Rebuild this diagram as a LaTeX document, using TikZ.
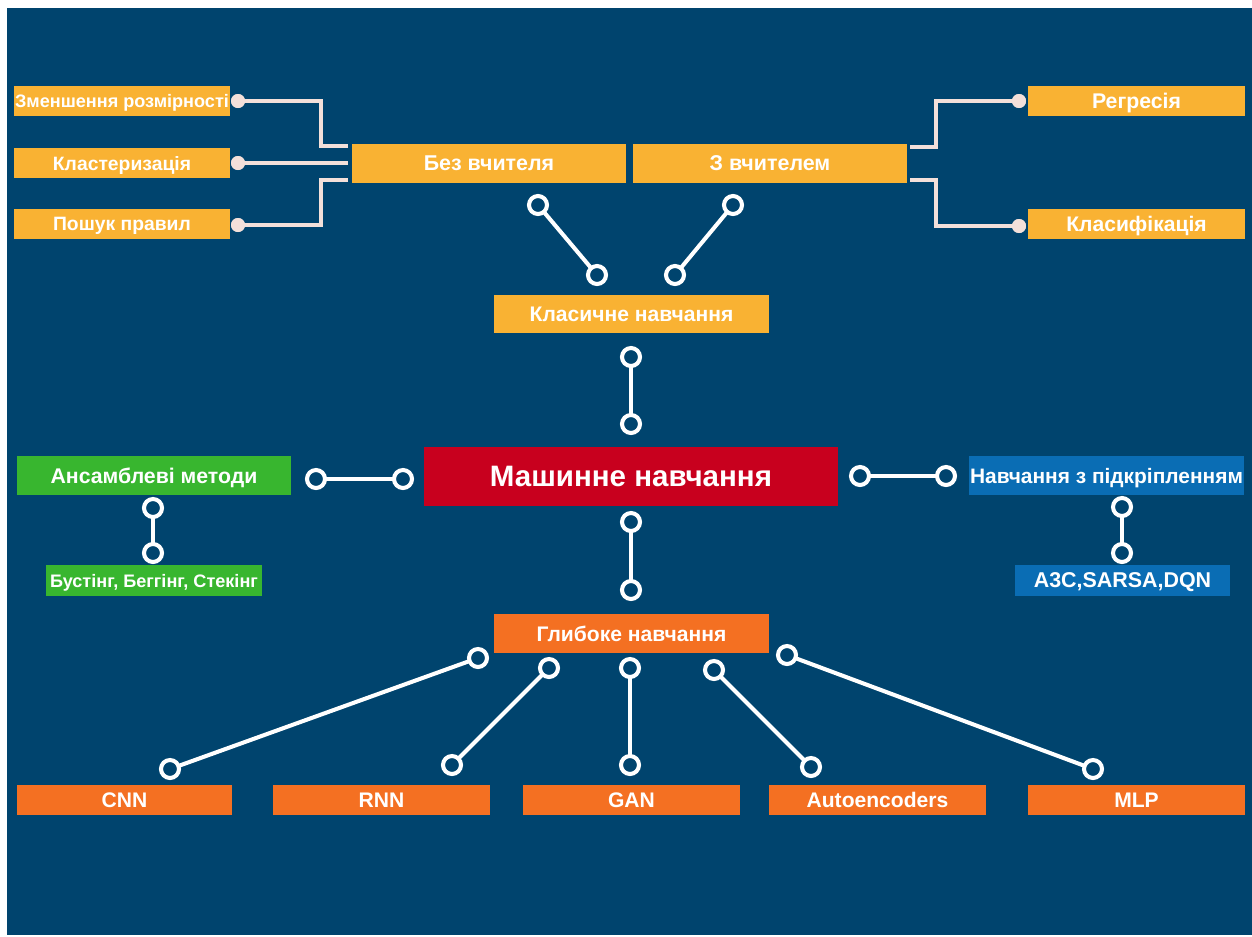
\documentclass[tikz,border=0pt]{standalone}
\usepackage{fontspec}
\setmainfont{Liberation Sans}
\definecolor{bgc}{HTML}{00446E}
\definecolor{ylw}{HTML}{F9B233}
\definecolor{redc}{HTML}{C8001E}
\definecolor{grn}{HTML}{38B62F}
\definecolor{blu}{HTML}{0A6DB4}
\definecolor{org}{HTML}{F47022}
\definecolor{pnk}{HTML}{F3E0DA}
\newcommand{\fs}[1]{\bfseries\fontsize{#1}{#1}\selectfont}
\tikzset{
  box/.style={rectangle, inner sep=0pt, outer sep=0pt, text=white, text depth=0pt},
  ring/.style={circle, draw=white, line width=2.3pt, fill=bgc, minimum size=0.36cm, inner sep=0pt, outer sep=0pt},
  dotp/.style={circle, fill=pnk, minimum size=0.28cm, inner sep=0pt, outer sep=0pt},
  link/.style={draw=white, line width=2.3pt},
  plink/.style={draw=pnk, line width=1.8pt},
}
\begin{document}
\begin{tikzpicture}[x=0.02cm,y=-0.02cm]
\useasboundingbox (0,0) rectangle (1252,937);
\fill[white] (0,0) rectangle (1252,937);
\fill[bgc] (7,8) rectangle (1252,935);

% top-left yellow boxes
\node[box, fill=ylw, minimum width=4.32cm, minimum height=0.6cm, font=\fs{10.3}] (zr) at (122,101) {Зменшення розмірності};
\node[box, fill=ylw, minimum width=4.32cm, minimum height=0.6cm, font=\fs{11}] (kl) at (122,163) {Кластеризація};
\node[box, fill=ylw, minimum width=4.32cm, minimum height=0.6cm, font=\fs{11}] (pp) at (122,224) {Пошук правил};

\node[box, fill=ylw, minimum width=5.48cm, minimum height=0.78cm, font=\fs{12.2}] (bv) at (489,163.5) {Без вчителя};
\node[box, fill=ylw, minimum width=5.48cm, minimum height=0.78cm, font=\fs{12.2}] (zv) at (770,163.5) {З вчителем};

\node[box, fill=ylw, minimum width=4.34cm, minimum height=0.6cm, font=\fs{12.1}] (rg) at (1136.5,101) {Регресія};
\node[box, fill=ylw, minimum width=4.34cm, minimum height=0.6cm, font=\fs{12}] (kf) at (1136.5,224) {Класифікація};

% top connectors
\node[dotp] (d1) at (238,101) {};
\node[dotp] (d2) at (238,163) {};
\node[dotp] (d3) at (238,225) {};
\coordinate (c1) at (348,146);
\coordinate (c2) at (348,163);
\coordinate (c3) at (348,180);
\draw[plink] (c1) -| (321,101) -- (d1.center);
\draw[plink] (c2) -- (d2.center);
\draw[plink] (c3) -| (321,225) -- (d3.center);
\node[dotp] at (d1) {};
\node[dotp] at (d2) {};
\node[dotp] at (d3) {};

\node[dotp] (d4) at (1019,101) {};
\node[dotp] (d5) at (1019,226) {};
\coordinate (c4) at (910,147);
\coordinate (c5) at (910,180);
\draw[plink] (c4) -| (936,101) -- (d4.center);
\draw[plink] (c5) -| (936,226) -- (d5.center);
\node[dotp] at (d4) {};
\node[dotp] at (d5) {};

% classic
\node[box, fill=ylw, minimum width=5.5cm, minimum height=0.76cm, font=\fs{12}] (kn) at (631.5,314) {Класичне навчання};
\node[ring] (r1) at (538,205) {};
\node[ring] (r2) at (597,275) {};
\node[ring] (r3) at (733,205) {};
\node[ring] (r4) at (675,275) {};
\draw[link] (r1) -- (r2);
\draw[link] (r3) -- (r4);

\node[ring] (r5) at (631,357) {};
\node[ring] (r6) at (631,424) {};
\draw[link] (r5) -- (r6);

% main
\node[box, fill=redc, minimum width=8.28cm, minimum height=1.18cm, font=\fs{16.8}] (mn) at (631,476.5) {Машинне навчання};

% ensembles
\node[box, fill=grn, minimum width=5.48cm, minimum height=0.78cm, font=\fs{12.1}] (am) at (154,475.5) {Ансамблеві методи};
\node[box, fill=grn, minimum width=4.32cm, minimum height=0.62cm, font=\fs{10.3}] (bb) at (154,580.5) {Бустінг, Беггінг, Стекінг};
\node[ring] (r7) at (316,479) {};
\node[ring] (r8) at (403,479) {};
\draw[link] (r7) -- (r8);
\node[ring] (r9) at (153,508) {};
\node[ring] (r10) at (153,553) {};
\draw[link] (r9) -- (r10);

% reinforcement
\node[box, fill=blu, minimum width=5.5cm, minimum height=0.78cm, font=\fs{11.9}] (nz) at (1106.5,475.5) {Навчання з підкріпленням};
\node[box, fill=blu, minimum width=4.3cm, minimum height=0.62cm, font=\fs{12.2}] (a3) at (1122.5,580.5) {A3C,SARSA,DQN};
\node[ring] (r11) at (860,476) {};
\node[ring] (r12) at (946,476) {};
\draw[link] (r11) -- (r12);
\node[ring] (r13) at (1122,507) {};
\node[ring] (r14) at (1122,553) {};
\draw[link] (r13) -- (r14);

% deep
\node[ring] (r15) at (631,522) {};
\node[ring] (r16) at (631,590) {};
\draw[link] (r15) -- (r16);
\node[box, fill=org, minimum width=5.5cm, minimum height=0.78cm, font=\fs{12}] (gn) at (631.5,633.5) {Глибоке навчання};

\node[box, fill=org, minimum width=4.3cm, minimum height=0.6cm, font=\fs{12}] (cnn) at (124.5,800) {CNN};
\node[box, fill=org, minimum width=4.34cm, minimum height=0.6cm, font=\fs{12}] (rnn) at (381.5,800) {RNN};
\node[box, fill=org, minimum width=4.34cm, minimum height=0.6cm, font=\fs{12}] (gan) at (631.5,800) {GAN};
\node[box, fill=org, minimum width=4.34cm, minimum height=0.6cm, font=\fs{12}] (ae) at (877.5,800) {Autoencoders};
\node[box, fill=org, minimum width=4.34cm, minimum height=0.6cm, font=\fs{12}] (mlp) at (1136.5,800) {MLP};

\node[ring] (t1) at (478,658) {};
\node[ring] (t2) at (549,668) {};
\node[ring] (t3) at (630,668) {};
\node[ring] (t4) at (714,670) {};
\node[ring] (t5) at (787,655) {};
\node[ring] (b1) at (170,769) {};
\node[ring] (b2) at (452,765) {};
\node[ring] (b3) at (630,765) {};
\node[ring] (b4) at (811,767) {};
\node[ring] (b5) at (1093,769) {};
\draw[link] (t1) -- (b1);
\draw[link] (t2) -- (b2);
\draw[link] (t3) -- (b3);
\draw[link] (t4) -- (b4);
\draw[link] (t5) -- (b5);
\end{tikzpicture}
\end{document}
